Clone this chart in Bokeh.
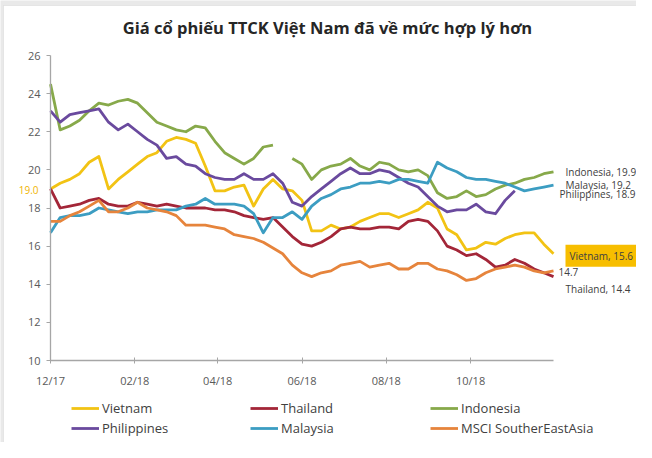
import pandas as pd
from bokeh.plotting import figure
from bokeh.models import (Range1d, FixedTicker, DatetimeTickFormatter, Label,
                          Legend, LegendItem, BoxAnnotation)
from bokeh.embed import file_html
from bokeh.resources import INLINE

nan = float("nan")

# ---- data (weekly closes) ----
start_date = "2017-12-29"
n_points = 53
dates = pd.date_range(start_date, periods=n_points, freq="7D")
end_date = dates[-1]

tick_dates = ["2017-12-29", "2018-02-28", "2018-04-29", "2018-06-29", "2018-08-29", "2018-10-29"]
y_ticks = [10, 12, 14, 16, 18, 20, 22, 24, 26]
y_min, y_max = 10, 26

vietnam = [19.0, 19.3, 19.5, 19.8, 20.4, 20.7, 19.0, 19.5, 19.9, 20.3, 20.7, 20.9, 21.5, 21.7, 21.6,
           21.4, 20.2, 18.9, 18.9, 19.1, 19.2, 18.1, 19.0, 19.5, 19.0, 18.9, 18.4, 16.8, 16.8, 17.1,
           16.9, 17.0, 17.3, 17.5, 17.7, 17.7, 17.5, 17.7, 17.9, 18.3, 18.0, 16.9, 16.6, 15.8, 15.9,
           16.2, 16.1, 16.4, 16.6, 16.7, 16.7, 16.1, 15.6]
thailand = [19.0, 18.0, 18.1, 18.2, 18.4, 18.5, 18.2, 18.1, 18.1, 18.3, 18.2, 18.1, 18.2, 18.1, 18.0,
            18.0, 18.0, 17.9, 17.9, 17.8, 17.6, 17.5, 17.4, 17.5, 17.0, 16.5, 16.1, 16.0, 16.2, 16.5,
            16.9, 17.0, 16.9, 16.9, 17.0, 17.0, 16.9, 17.3, 17.4, 17.3, 16.8, 16.0, 15.8, 15.5, 15.6,
            15.3, 14.9, 15.0, 15.3, 15.1, 14.8, 14.6, 14.4]
indonesia = [24.5, 22.1, 22.3, 22.6, 23.1, 23.5, 23.4, 23.6, 23.7, 23.5, 23.0, 22.5, 22.3, 22.1, 22.0,
             22.3, 22.2, 21.5, 20.9, 20.6, 20.3, 20.6, 21.2, 21.3, nan, 20.6, 20.3, 19.5, 20.0, 20.2,
             20.3, 20.6, 20.2, 20.0, 20.4, 20.3, 20.0, 19.9, 20.0, 19.7, 18.8, 18.5, 18.6, 18.9, 18.6,
             18.7, 19.0, 19.2, 19.3, 19.5, 19.6, 19.8, 19.9]
philippines = [23.1, 22.5, 22.9, 23.0, 23.1, 23.2, 22.5, 22.1, 22.4, 22.0, 21.6, 21.3, 20.6, 20.7, 20.3,
               20.2, 19.8, 19.6, 19.5, 19.5, 19.8, 19.5, 19.5, 19.8, 19.3, 18.3, 18.1, 18.6, 19.0, 19.4,
               19.8, 20.1, 19.8, 19.8, 20.0, 19.9, 19.6, 19.3, 19.1, 18.6, 18.1, 17.8, 17.9, 17.9, 18.2,
               17.8, 17.7, 18.4, 18.9, nan, nan, nan, nan]
malaysia = [16.7, 17.5, 17.6, 17.6, 17.7, 18.0, 17.9, 17.8, 17.7, 17.8, 17.8, 17.9, 17.9, 17.9, 18.1,
            18.2, 18.5, 18.2, 18.2, 18.2, 18.1, 17.7, 16.7, 17.5, 17.5, 17.8, 17.4, 18.1, 18.5, 18.7,
            19.0, 19.1, 19.3, 19.3, 19.4, 19.3, 19.5, 19.5, 19.4, 19.3, 20.4, 20.1, 19.9, 19.6, 19.5,
            19.5, 19.4, 19.3, 19.1, 18.9, 19.0, 19.1, 19.2]
msci_sea = [17.3, 17.3, 17.6, 17.8, 18.1, 18.4, 17.8, 17.8, 18.0, 18.3, 18.0, 17.9, 17.8, 17.6, 17.1,
            17.1, 17.1, 17.0, 16.9, 16.6, 16.5, 16.4, 16.2, 15.9, 15.6, 15.0, 14.6, 14.4, 14.6, 14.7,
            15.0, 15.1, 15.2, 14.9, 15.0, 15.1, 14.8, 14.8, 15.1, 15.1, 14.8, 14.7, 14.5, 14.2, 14.3,
            14.6, 14.8, 14.9, 15.0, 14.9, 14.7, 14.6, 14.7]

series_names = ["Vietnam", "Thailand", "Indonesia", "Philippines", "Malaysia", "MSCI SoutherEastAsia"]
series_values = [vietnam, thailand, indonesia, philippines, malaysia, msci_sea]
series_colors = ["#F2C314", "#A32638", "#87A94A", "#6A4A9E", "#3C9DC2", "#E6843C"]

title_text = "Giá cổ phiếu TTCK Việt Nam đã về mức hợp lý hơn"

FONT = "Open Sans"
AXIS_GRAY = "#A6A6A6"
TEXT_GRAY = "#595959"

# ---- layout (pixels inside the 636x442 canvas) ----
W, H = 636, 442
PL, PR, PT, PB = 50, 553, 55, 360   # where the data area sits


def last_valid(vals):
    return [v for v in vals if v == v][-1]


def ms(d):
    return pd.Timestamp(d).value / 1e6


x0, x1 = ms(start_date), ms(end_date)
kx = (x1 - x0) / (PR - PL)
ky = (y_max - y_min) / (PB - PT)
x_range = Range1d(x0 - PL * kx, x1 + (W - PR) * kx)
y_range = Range1d(y_min - (H - PB) * ky, y_max + PT * ky)

p = figure(width=W, height=H, x_axis_type="datetime", x_range=x_range, y_range=y_range,
           output_backend="svg", toolbar_location=None, min_border=0)
p.outline_line_color = None
p.xgrid.visible = False
p.ygrid.visible = False
p.background_fill_color = "#E9E9E9"
p.border_fill_color = "white"

# chart-area panel (white with thin grey edge, like the reference frame)
p.add_layout(BoxAnnotation(left=3, right=W + 10, bottom=-10, top=H - 5,
                           left_units="screen", right_units="screen",
                           bottom_units="screen", top_units="screen",
                           fill_color="white", fill_alpha=1.0,
                           line_color="#C4C4C4", line_width=1, level="underlay"))

renderers = []
for name, vals, col in zip(series_names, series_values, series_colors):
    r = p.line(x=list(dates), y=vals, line_color=col, line_width=2.8, line_join="round")
    renderers.append(r)

# axes drawn at fixed positions inside the canvas
xa, ya = p.xaxis[0], p.yaxis[0]
xa.fixed_location = y_min
xa.bounds = (x0, x1)
ya.fixed_location = x0
ya.bounds = (y_min, y_max)
ya.ticker = FixedTicker(ticks=y_ticks)
xa.ticker = FixedTicker(ticks=[ms(d) for d in tick_dates])
fmt = "%m/%y"
xa.formatter = DatetimeTickFormatter(days=fmt, months=fmt, years=fmt, hours=fmt,
                                     hourmin=fmt, minutes=fmt, minsec=fmt, seconds=fmt,
                                     milliseconds=fmt, microseconds=fmt)
for ax in (xa, ya):
    ax.axis_line_color = AXIS_GRAY
    ax.axis_line_width = 1.3
    ax.major_tick_line_color = AXIS_GRAY
    ax.minor_tick_line_color = None
    ax.major_label_text_font = FONT
    ax.major_label_text_font_size = "11px"
    ax.major_label_text_color = TEXT_GRAY
ya.major_tick_out = 4
ya.major_tick_in = 0
ya.major_label_standoff = 6
xa.major_tick_out = 3
xa.major_tick_in = 3
xa.major_label_standoff = 9

# title
p.add_layout(Label(x=327, y=H - 27, x_units="screen", y_units="screen", text=title_text,
                   text_font=FONT, text_font_style="bold", text_font_size="16.5px",
                   text_color="#262626", text_align="center", text_baseline="middle"))

# end-of-series data labels
lab_style = dict(text_font=FONT, text_font_size="10px", text_color="#404040",
                 text_baseline="middle", text_align="left")
p.add_layout(Label(x=x1, y=last_valid(indonesia), x_offset=12, y_offset=0,
                   text=f"Indonesia, {last_valid(indonesia)}", **lab_style))
p.add_layout(Label(x=x1, y=last_valid(malaysia), x_offset=12, y_offset=0,
                   text=f"Malaysia, {last_valid(malaysia)}", **lab_style))
p.add_layout(Label(x=x1, y=last_valid(philippines), x_offset=6, y_offset=-3,
                   text=f"Philippines, {last_valid(philippines)}", **lab_style))
p.add_layout(Label(x=x1, y=last_valid(vietnam), x_offset=12, y_offset=-2,
                   text=f"Vietnam, {last_valid(vietnam)}", background_fill_color="#F7BE00",
                   padding=4, **lab_style))
p.add_layout(Label(x=x1, y=last_valid(msci_sea), x_offset=5, y_offset=-1,
                   text=f"{last_valid(msci_sea)}", **lab_style))
p.add_layout(Label(x=x1, y=last_valid(thailand), x_offset=12, y_offset=-12,
                   text=f"Thailand, {last_valid(thailand)}", **lab_style))
p.add_layout(Label(x=x0, y=vietnam[0], x_offset=-12, y_offset=-1,
                   text=f"{vietnam[0]:.1f}", text_font=FONT, text_font_size="10px",
                   text_color="#F0B400", text_baseline="middle", text_align="right"))

# legend: three columns of two items
columns = [(0, 3), (1, 4), (2, 5)]
col_x = [71, 250, 430]
for (a, b), cx in zip(columns, col_x):
    lg = Legend(items=[LegendItem(label=series_names[a], renderers=[renderers[a]]),
                       LegendItem(label=series_names[b], renderers=[renderers[b]])],
                location=(cx, 5), orientation="vertical", padding=0, margin=0,
                spacing=2, glyph_width=28, glyph_height=16, label_height=16,
                label_standoff=3, label_text_font=FONT, label_text_font_size="13px",
                label_text_color="#404040", border_line_alpha=0,
                background_fill_alpha=0)
    p.add_layout(lg)

open("out.html", "w").write(file_html(p, INLINE))
